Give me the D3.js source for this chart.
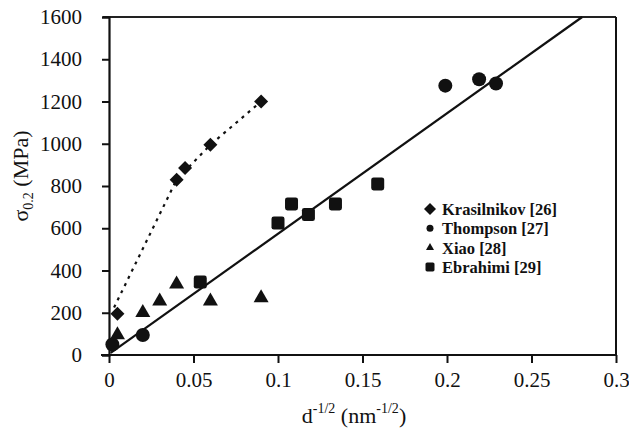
<!DOCTYPE html>
<html>
<head>
<meta charset="utf-8">
<script src="https://cdn.jsdelivr.net/npm/d3@7"></script>
<style>
  body { margin: 0; background: #fff; }
  svg text { font-family: "Liberation Serif", "Times New Roman", Times, serif; }
</style>
</head>
<body>
<div id="chart"></div>
<script>
// values
var krasilnikov = [[0.005, 195], [0.040, 830], [0.045, 885], [0.060, 995], [0.090, 1200]];
var thompson = [[0.002, 50], [0.020, 95], [0.199, 1275], [0.219, 1305], [0.229, 1285]];
var xiao = [[0.005, 95], [0.020, 200], [0.030, 255], [0.040, 335], [0.060, 255], [0.090, 270]];
var ebrahimi = [[0.054, 345], [0.100, 625], [0.108, 715], [0.118, 665], [0.134, 715], [0.159, 810]];
var dottedFit = [[0.003, 225], [0.040, 830], [0.060, 995], [0.090, 1200]];
var solidFit = [[0.001, 10], [0.280, 1600]];
var xTicks = [0, 0.05, 0.1, 0.15, 0.2, 0.25, 0.3];
var yTicks = [0, 200, 400, 600, 800, 1000, 1200, 1400, 1600];
var legendNames = ["Krasilnikov [26]", "Thompson [27]", "Xiao [28]", "Ebrahimi [29]"];

var W = 629, H = 430;
var m = {left: 109, right: 13, top: 17, bottom: 75};
var serif = '"Liberation Serif", "Times New Roman", Times, serif';

var svg = d3.select('#chart').append('svg')
    .attr('width', W)
    .attr('height', H);

var x = d3.scaleLinear().domain([0, 0.3]).range([m.left, W - m.right]);
var y = d3.scaleLinear().domain([0, 1600]).range([H - m.bottom, m.top]);

// frame
svg.append('line')
    .attr('x1', x(0) - 6).attr('x2', x(0.3))
    .attr('y1', y(1600)).attr('y2', y(1600))
    .attr('stroke', '#222').attr('stroke-width', 2);
svg.append('line')
    .attr('x1', x(0.3)).attr('x2', x(0.3))
    .attr('y1', y(1600)).attr('y2', y(0))
    .attr('stroke', '#111').attr('stroke-width', 2);

var xAxis = svg.append('g')
    .attr('transform', 'translate(0,' + y(0) + ')')
    .call(d3.axisBottom(x).tickValues(xTicks).tickSize(8).tickPadding(9)
      .tickFormat(function(d) { return d === 0 ? '0' : String(+d.toFixed(2)); }));
var yAxis = svg.append('g')
    .attr('transform', 'translate(' + x(0) + ',0)')
    .call(d3.axisLeft(y).tickValues(yTicks).tickSize(7).tickPadding(20)
      .tickFormat(d3.format('d')));

[xAxis, yAxis].forEach(function(a) {
  a.attr('font-family', serif);
  a.select('.domain').attr('stroke', '#111').attr('stroke-width', 2.2);
  a.selectAll('.tick line').attr('stroke', '#111').attr('stroke-width', 2);
  a.selectAll('.tick text').attr('font-size', 21).attr('fill', '#111');
});
xAxis.select('.domain').attr('d', 'M' + (x(0) - 8) + ',0H' + x(0.3));

// fit lines
var line = d3.line().x(function(d) { return x(d[0]); }).y(function(d) { return y(d[1]); });
svg.append('path').datum(dottedFit)
    .attr('d', line).attr('fill', 'none')
    .attr('stroke', '#111').attr('stroke-width', 2.2)
    .attr('stroke-dasharray', '3,5');
svg.append('path').datum(solidFit)
    .attr('d', line).attr('fill', 'none')
    .attr('stroke', '#111').attr('stroke-width', 2.2);

// markers
function marker(sel, kind, s) {
  if (kind === 'diamond') {
    sel.append('path').attr('d', d3.symbol(d3.symbolSquare, s * s * 0.5)())
        .attr('transform', 'rotate(45)');
  } else if (kind === 'circle') {
    sel.append('circle').attr('r', s / 2);
  } else if (kind === 'triangle') {
    sel.append('path').attr('d', d3.symbol(d3.symbolTriangle, Math.sqrt(3) / 4 * s * s)());
  } else {
    sel.append('rect').attr('x', -s / 2).attr('y', -s / 2)
        .attr('width', s).attr('height', s).attr('rx', s * 0.18);
  }
}

var series = [
  {data: krasilnikov, kind: 'diamond', size: 14},
  {data: thompson, kind: 'circle', size: 14},
  {data: xiao, kind: 'triangle', size: 15},
  {data: ebrahimi, kind: 'square', size: 13}
];

series.forEach(function(s) {
  svg.append('g').selectAll('g')
      .data(s.data)
      .enter().append('g')
      .attr('transform', function(d) { return 'translate(' + x(d[0]) + ',' + y(d[1]) + ')'; })
      .attr('fill', '#111')
      .each(function() { marker(d3.select(this), s.kind, s.size); });
});

// legend
var legend = svg.append('g').attr('transform', 'translate(430,209)');
var legendSizes = [12, 7, 8, 9];
legendNames.forEach(function(name, i) {
  var g = legend.append('g').attr('transform', 'translate(0,' + (i * 19.3) + ')');
  var mk = g.append('g').attr('fill', '#111');
  marker(mk, series[i].kind, legendSizes[i]);
  g.append('text').attr('x', 12).attr('y', 6)
      .attr('font-size', 16.5).attr('font-weight', 'bold').attr('fill', '#111')
      .text(name);
});

// axis titles
var xt = svg.append('text')
    .attr('x', 354).attr('y', 423)
    .attr('text-anchor', 'middle')
    .attr('font-size', 22).attr('fill', '#111');
xt.append('tspan').text('d');
xt.append('tspan').attr('dy', -10).attr('font-size', 14).text('-1/2');
xt.append('tspan').attr('dy', 10).text(' (nm');
xt.append('tspan').attr('dy', -10).attr('font-size', 14).text('-1/2');
xt.append('tspan').attr('dy', 10).text(')');

var yt = svg.append('text')
    .attr('transform', 'translate(28,176) rotate(-90)')
    .attr('text-anchor', 'middle')
    .attr('font-size', 22).attr('fill', '#111');
yt.append('tspan').text('σ');
yt.append('tspan').attr('dy', 5).attr('font-size', 14).text('0.2');
yt.append('tspan').attr('dy', -5).text(' (MPa)');

svg.selectAll('text').style('font-family', serif);
</script>
</body>
</html>
